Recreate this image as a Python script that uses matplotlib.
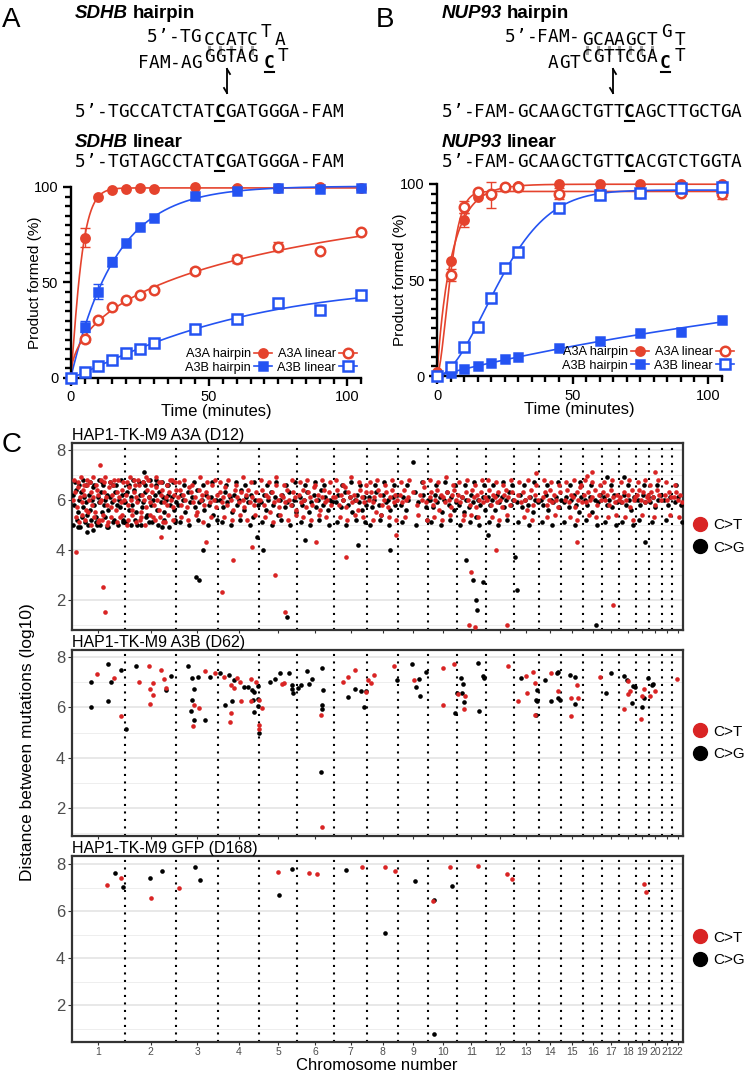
import numpy as np
import matplotlib
matplotlib.use('Agg')
import matplotlib.pyplot as plt
from matplotlib.lines import Line2D
from matplotlib.ticker import MultipleLocator

plt.rcParams['font.family'] = ['Liberation Sans', 'DejaVu Sans']

# ---------------- kinetics data (panels A, B) ----------------
time_min = [0, 5, 10, 15, 20, 25, 30, 45, 60, 75, 90, 105]

sdhb_a3a_hp = [0, 73.5, 95, 98.4, 99, 99.3, 99, 100, 99.7, 99.7, 100, 99.7]
sdhb_a3a_hp_err = [0, 5, 0, 0, 0, 0, 0, 0, 0, 0, 0, 0]
sdhb_a3b_hp = [0, 26.9, 45.2, 60.9, 70.8, 78.9, 83.9, 95.3, 98, 99.7, 99, 99.7]
sdhb_a3b_hp_err = [0, 3, 4, 2.5, 0, 0, 0, 0, 0, 0, 0, 0]
sdhb_a3a_lin = [0, 20.2, 30.4, 37.3, 40.8, 43.5, 46, 56.2, 62.3, 68.8, 66.6, 76.3]
sdhb_a3a_lin_err = [0, 1.5, 0, 0, 0, 0, 0, 1.5, 2, 2.5, 0, 0]
sdhb_a3b_lin = [0, 3, 6.3, 9.4, 12.9, 15.3, 18.5, 25.6, 30.7, 39.4, 35.6, 43.5]
sdhb_a3b_lin_err = [0] * 12

nup93_a3a_hp = [2, 60, 81.2, 93, 94.3, 98.6, 99, 100, 100, 100, 100, 100]
nup93_a3a_hp_err = [0, 0, 3.5, 0, 7, 1, 1, 0, 0, 0, 0, 0]
nup93_a3b_hp = [0, 1.4, 3.5, 5.4, 6.9, 8.7, 9.7, 14.4, 18.4, 22.2, 23, 29.2]
nup93_a3b_hp_err = [0] * 12
nup93_a3a_lin = [0, 52.6, 88, 96, 95, 98.3, 98.6, 95, 96, 95.3, 95.3, 95]
nup93_a3a_lin_err = [0, 3, 3, 0, 0, 0, 0, 3, 0, 0, 0, 3]
nup93_a3b_lin = [0, 4.8, 14.9, 25.7, 40.5, 56.4, 64.8, 87.3, 94.3, 95.1, 97.7, 98.6]
nup93_a3b_lin_err = [0] * 12

series_labels = ['A3A hairpin', 'A3B hairpin', 'A3A linear', 'A3B linear']

# ---------------- rainfall data (panel C), (genome position Mb, log10 distance) ----------------
chrom_len_mb = [249.3, 243.2, 198.0, 191.2, 180.9, 171.1, 159.1, 146.4, 141.2, 135.5, 135.0,
                133.9, 115.2, 107.3, 102.5, 90.4, 81.2, 78.1, 59.1, 63.0, 48.1, 51.3]
chrom_names = [str(i) for i in range(1, 23)]

a3a_ct = [(5,6.0),(14,6.3),(22,5.7),(30,6.5),(37,6.1),(45,5.9),(52,6.4),(58,6.2),(66,5.6),(73,6.6),(80,6.0),
          (88,6.3),(95,5.8),(101,6.1),(109,5.5),(117,6.4),(124,6.2),(131,5.9),(138,6.0),(145,5.4),(152,6.3),
          (160,6.1),(167,5.8),(175,6.5),(183,5.7),(190,6.2),(198,6.0),(206,5.6),(214,6.3),(222,6.1),(230,5.9),
          (238,6.4),(245,6.0),(128,5.2),(150,6.7),(170,5.1),(200,6.8),(226,5.3),(260,5.0),(290,6.8),(320,5.2),
          (350,6.9),(380,5.3),(410,6.7),(440,5.1),(470,6.8),
          (255,6.2),(262,5.8),(270,6.5),(278,6.0),(285,5.6),(293,6.3),(300,6.1),(308,5.9),(316,6.6),(323,5.5),
          (331,6.2),(339,6.0),(347,5.7),(355,6.4),(362,6.1),(370,5.9),(378,6.3),(386,5.8),(394,6.5),(402,6.0),
          (410,5.6),(418,6.2),(426,6.4),(434,5.9),(442,6.1),(450,5.8),(458,6.3),(466,6.0),(474,5.7),(482,6.2),(489,6.4),
          (498,6.1),(507,6.4),(516,5.8),(525,6.2),(534,6.0),(543,5.7),(552,6.5),(561,6.3),(570,5.9),(579,6.1),
          (588,5.5),(597,6.4),(606,6.0),(615,6.2),(624,5.8),(633,6.3),(642,6.1),(651,5.9),(660,6.6),(669,6.0),(678,5.7),(686,6.2),
          (696,6.3),(705,5.9),(714,6.1),(723,6.5),(732,5.8),(741,6.2),(750,6.0),(759,5.6),(768,6.4),(777,6.1),
          (786,5.9),(795,6.3),(804,6.0),(813,5.7),(822,6.2),(831,6.4),(840,5.9),(849,6.1),(858,5.8),(867,6.3),(876,6.0),
          (888,6.0),(897,6.4),(906,5.8),(915,6.2),(924,6.1),(933,5.5),(942,6.3),(951,5.9),(960,6.6),(969,6.0),
          (978,5.7),(987,6.2),(996,6.1),(1005,5.9),(1014,6.4),(1023,6.0),(1032,5.8),(1041,6.3),(1050,6.1),(1058,5.6),
          (1069,6.2),(1078,5.9),(1087,6.4),(1096,6.0),(1105,5.7),(1114,6.3),(1123,6.1),(1132,5.8),(1141,6.5),(1150,6.0),
          (1159,6.2),(1168,5.6),(1177,6.1),(1186,6.4),(1195,5.9),(1204,6.0),(1213,6.3),(1222,5.8),(1230,6.1),
          (1240,6.1),(1249,6.4),(1258,5.8),(1267,6.2),(1276,6.0),(1285,6.5),(1294,5.7),(1303,6.3),(1312,6.1),
          (1321,5.9),(1330,6.2),(1339,6.0),(1348,5.6),(1357,6.4),(1366,6.1),(1375,5.9),(1384,6.3),
          (1399,6.0),(1408,6.3),(1417,5.9),(1426,6.1),(1435,5.5),(1444,6.4),(1453,6.2),(1462,5.8),(1471,6.0),
          (1480,6.3),(1489,5.7),(1498,6.1),(1507,6.4),(1516,5.9),(1525,6.2),(1534,6.0),
          (1545,6.2),(1555,5.9),(1565,6.4),(1575,6.0),(1585,6.1),(1610,6.3),(1625,5.8),(1640,6.2),(1650,6.0),(1660,6.5),(1670,5.9),
          (1686,6.1),(1695,6.3),(1704,5.8),(1713,6.0),(1722,6.4),(1731,5.6),(1740,6.2),(1749,6.1),(1758,5.9),
          (1767,6.3),(1776,6.0),(1785,5.7),(1794,6.2),(1803,6.4),(1811,6.0),
          (1822,6.2),(1831,5.9),(1840,6.1),(1849,5.4),(1858,6.3),(1867,6.0),(1876,5.8),(1885,6.4),(1894,6.1),
          (1903,5.7),(1912,6.2),(1921,6.0),(1930,6.3),(1939,5.9),(1947,6.1),
          (1957,6.0),(1966,6.4),(1975,5.8),(1984,6.2),(1993,6.1),(2002,5.9),(2011,6.3),(2020,6.0),(2029,5.7),
          (2038,6.2),(2047,6.4),(2056,6.1),(2065,5.8),(2074,6.3),(2082,6.0),
          (2105,6.2),(2115,5.9),(2125,6.3),(2135,6.0),(2145,5.6),(2155,6.1),(2165,6.4),(2175,5.8),(2185,6.2),(2195,6.0),
          (2220,6.1),(2229,6.3),(2238,5.8),(2247,6.0),(2256,6.4),(2265,5.9),(2274,6.2),(2283,6.0),(2292,5.7),(2301,6.3),
          (2325,6.0),(2334,6.4),(2343,5.9),(2352,6.2),(2361,6.1),(2370,5.7),(2379,6.3),(2388,6.0),(2397,6.5),(2405,5.9),
          (2414,6.2),(2423,5.9),(2432,6.3),(2441,6.0),(2450,6.1),(2468,6.4),(2477,5.8),(2486,6.2),(2495,6.0),
          (2505,6.3),(2514,6.0),(2523,6.2),(2532,5.8),(2541,6.4),(2550,6.1),(2559,5.9),(2568,6.2),(2577,6.0),
          (2586,6.1),(2595,5.9),(2604,6.3),(2613,6.0),(2622,6.2),(2631,5.7),(2640,6.4),(2649,6.0),(2657,6.1),
          (2664,6.2),(2673,6.4),(2682,6.0),(2691,6.3),(2700,5.9),(2709,6.1),(2716,6.2),
          (2723,6.0),(2732,6.3),(2741,6.1),(2750,5.8),(2759,6.4),(2768,6.2),(2777,6.0),
          (2795,6.2),(2805,6.0),(2815,6.3),(2825,6.1),
          (2838,6.1),(2848,6.3),(2858,6.0),(2868,6.2),(2877,5.9),
          (132,7.4),(19,3.9),(146,2.5),(156,1.5),(632,4.3),(707,2.3),(849,4.1),(957,3.0),(1004,1.5),(1150,4.3),
          (1290,3.7),(1870,1.0),(1880,3.1),(1900,0.9),(2000,4.0),(2050,1.0),(2550,1.8),(2749,7.1),(2186,7.07),
          (2426,6.95),(2452,7.1),(420,4.5),(760,3.6),(1530,4.6),(2380,4.3)]

# upper / lower edge of the dense A3A band
a3a_ct_edge = [(9,6.8),(18,5.3),(26,6.7),(34,5.1),(41,6.9),(49,5.4),(55,6.6),(62,5.2),(69,6.8),(77,5.5),(84,6.7),
               (91,5.0),(98,6.9),(105,5.3),(113,6.6),(121,5.1),(135,6.8),(142,5.2),(156,6.9),(163,5.0),(179,6.7),
               (186,5.3),(194,6.6),(210,5.1),(218,6.8),(234,5.4),(242,6.7),
               (258,6.7),(266,5.2),(274,6.9),(282,5.4),(297,6.6),(304,5.1),(312,6.8),(327,5.3),(335,6.7),(343,5.0),
               (359,6.8),(366,5.4),(374,6.6),(390,5.2),(398,6.9),(414,5.3),(422,6.7),(430,5.1),(446,6.6),(454,5.4),
               (462,6.8),(478,5.2),(486,6.7),
               (503,6.7),(512,5.3),(530,6.8),(548,5.2),(566,6.6),(584,5.4),(602,6.9),(620,5.1),(638,6.7),(656,5.3),(674,6.8),
               (700,6.7),(718,5.3),(736,6.8),(754,5.2),(772,6.6),(790,5.4),(808,6.9),(826,5.2),(844,6.7),(862,5.4),
               (892,6.8),(910,5.3),(928,6.7),(946,5.1),(964,6.9),(982,5.4),(1000,6.6),(1018,5.2),(1036,6.8),(1054,5.4),
               (1073,6.7),(1091,5.3),(1109,6.8),(1127,5.2),(1145,6.6),(1163,5.4),(1181,6.8),(1199,5.3),(1217,6.7),
               (1244,6.8),(1262,5.3),(1280,6.6),(1298,5.2),(1316,6.9),(1334,5.4),(1352,6.7),(1370,5.3),(1388,6.6),
               (1403,6.7),(1421,5.2),(1439,6.8),(1457,5.4),(1475,6.6),(1493,5.3),(1511,6.8),(1529,5.2),
               (1550,6.7),(1570,5.3),(1590,6.8),(1630,5.4),(1655,6.7),(1675,5.2),
               (1690,6.8),(1708,5.3),(1726,6.7),(1744,5.2),(1762,6.9),(1780,5.4),(1798,6.6),
               (1826,6.7),(1844,5.2),(1862,6.8),(1880,5.4),(1898,6.6),(1916,5.3),(1934,6.8),
               (1961,6.8),(1979,5.3),(1997,6.7),(2015,5.2),(2033,6.6),(2051,5.4),(2069,6.8),
               (2110,6.7),(2130,5.3),(2150,6.8),(2170,5.2),(2190,6.6),
               (2224,6.8),(2242,5.3),(2260,6.7),(2278,5.4),(2296,6.6),
               (2329,6.7),(2347,5.3),(2365,6.8),(2383,5.2),(2401,6.6),
               (2418,6.8),(2436,5.4),(2454,6.7),(2472,5.3),(2490,6.6),
               (2509,6.7),(2527,5.3),(2545,6.8),(2563,5.4),(2590,6.7),(2608,5.3),(2626,6.8),(2644,5.2),
               (2668,6.7),(2686,5.4),(2704,6.8),(2727,6.6),(2745,5.3),(2763,6.8),(2800,6.7),(2820,5.4),
               (2843,6.6),(2863,5.3)]

a3a_cg = [(3,6.2),(11,5.8),(19,6.4),(27,5.5),(35,6.0),(43,6.3),(50,5.7),(57,6.1),(64,5.9),(71,5.4),(78,6.2),
          (86,5.6),(93,6.0),(99,6.5),(106,5.8),(113,5.3),(121,6.1),(128,5.9),(135,6.3),(142,5.5),(149,5.8),
          (156,6.0),(164,6.2),(172,5.6),(180,6.1),(188,5.9),(196,5.2),(204,6.3),(212,5.8),(220,6.0),(228,5.7),
          (236,6.2),(243,5.9),(118,5.0),(140,6.7),(165,4.9),(195,6.6),(240,5.1),(270,6.6),(305,5.0),(335,6.7),
          (365,5.1),(395,6.8),(425,4.9),(455,6.6),(485,5.2),
          (252,5.9),(260,6.3),(268,5.6),(276,6.1),(284,5.8),(292,6.4),(301,5.5),(310,6.0),(319,6.2),(328,5.7),
          (337,5.9),(346,6.3),(355,5.4),(364,6.1),(373,5.8),(382,6.0),(391,6.2),(400,5.6),(409,6.3),(418,5.9),
          (427,6.1),(436,5.5),(445,6.0),(454,6.2),(463,5.8),(472,6.1),(481,5.6),(490,5.9),
          (502,5.8),(513,6.2),(524,6.0),(535,5.5),(546,6.3),(557,5.9),(568,6.1),(579,5.7),(590,6.4),(601,5.9),
          (612,6.0),(623,5.6),(634,6.2),(645,5.8),(656,6.1),(667,5.4),(678,6.0),
          (700,6.0),(711,5.7),(722,6.3),(733,5.9),(744,6.1),(755,5.5),(766,6.2),(777,5.8),(788,6.0),(799,6.4),
          (810,5.6),(821,6.1),(832,5.9),(843,6.2),(854,5.3),(865,6.0),(875,5.8),
          (892,5.9),(903,6.2),(914,5.6),(925,6.0),(936,6.3),(947,5.8),(958,6.1),(969,5.4),(980,6.0),(991,6.2),
          (1002,5.7),(1013,5.9),(1024,6.3),(1035,5.8),(1046,6.0),(1057,5.5),
          (1073,6.1),(1084,5.8),(1095,6.0),(1106,6.3),(1117,5.5),(1128,5.9),(1139,6.2),(1150,5.7),(1161,6.0),
          (1172,6.4),(1183,5.8),(1194,6.1),(1205,5.6),(1216,6.0),(1227,5.9),
          (1245,5.9),(1256,6.2),(1267,5.7),(1278,6.0),(1289,6.3),(1300,5.8),(1311,6.1),(1322,5.5),(1333,6.0),
          (1344,6.2),(1355,5.9),(1366,5.6),(1377,6.1),(1388,5.8),
          (1402,6.1),(1413,5.7),(1424,6.0),(1435,6.3),(1446,5.8),(1457,5.4),(1468,6.2),(1479,5.9),(1490,6.0),
          (1501,5.6),(1512,6.1),(1523,5.8),(1534,6.2),
          (1550,5.8),(1562,6.1),(1574,5.6),(1586,6.0),(1615,6.3),(1630,5.9),(1657,6.2),(1669,5.7),(1678,6.0),
          (1690,6.0),(1701,5.7),(1712,6.2),(1723,5.9),(1734,6.1),(1745,5.5),(1756,6.0),(1767,6.3),(1778,5.8),
          (1789,6.1),(1800,5.6),(1811,5.9),
          (1826,5.8),(1837,6.1),(1848,5.5),(1859,6.0),(1870,5.7),(1881,6.2),(1892,5.9),(1903,5.3),(1914,6.0),
          (1925,5.8),(1936,6.1),(1946,5.6),
          (1960,6.1),(1971,5.8),(1982,6.0),(1993,5.6),(2004,6.2),(2015,5.9),(2026,6.1),(2037,5.7),(2048,6.0),
          (2059,6.3),(2070,5.8),(2081,6.0),
          (2100,5.9),(2112,6.2),(2124,5.7),(2136,6.0),(2148,5.8),(2160,6.1),(2172,5.5),(2184,6.0),(2196,5.9),
          (2210,6.0),(2222,5.8),(2234,6.2),(2246,5.6),(2258,6.0),(2270,5.9),(2282,6.1),(2294,5.7),(2304,6.0),
          (2318,5.9),(2330,6.1),(2342,5.7),(2354,6.0),(2366,6.2),(2378,5.8),(2390,5.5),(2402,6.1),
          (2418,6.0),(2430,5.8),(2442,6.1),(2454,5.5),(2466,6.0),(2478,5.9),(2490,6.2),
          (2510,6.1),(2522,5.8),(2534,6.0),(2546,5.7),(2558,6.2),(2570,5.9),
          (2590,5.9),(2602,6.2),(2614,5.8),(2626,6.0),(2638,5.6),(2650,6.1),
          (2668,6.0),(2680,5.8),(2692,6.2),(2704,5.9),(2714,6.1),
          (2727,5.9),(2739,6.1),(2751,5.7),(2763,6.0),(2775,6.2),
          (2790,6.0),(2810,5.8),(2822,6.1),(2842,5.9),(2856,6.1),(2870,5.8),
          (71,4.7),(339,7.1),(585,2.9),(600,2.8),(618,4.0),(870,4.5),(1015,1.3),(1500,4.0),(1608,7.5),(1860,3.6),
          (1890,2.8),(1905,2.0),(1912,1.6),(1940,2.7),(2090,3.7),(2100,2.4),(2470,1.0),(2700,4.3),(2522,6.9),
          (2603,6.9),(1100,4.4),(1960,4.6),(1350,4.2),(30,4.9),(900,4.0)]

a3a_cg_edge = [(7,5.0),(16,6.7),(24,5.2),(32,6.6),(40,4.9),(47,5.3),(54,6.8),(61,5.1),(68,6.6),(75,5.0),(83,6.7),
               (90,5.2),(97,4.8),(103,6.6),(111,5.1),(125,6.8),(133,5.0),(147,6.6),(154,5.3),(169,4.9),(177,6.7),
               (192,5.1),(208,6.6),(216,5.0),(232,6.8),(240,5.2),
               (256,5.1),(264,6.6),(280,5.0),(288,6.8),(296,5.2),(314,6.7),(324,5.0),(342,6.6),(351,5.3),(369,6.8),
               (378,5.1),(396,6.6),(405,5.0),(423,6.7),(432,5.2),(450,6.6),(459,4.9),(477,6.7),(486,5.1),
               (507,5.1),(529,6.6),(551,5.0),(573,6.7),(595,5.2),(617,6.6),(639,5.0),(661,6.7),(683,5.2),
               (705,5.1),(727,6.6),(749,5.0),(771,6.7),(793,5.2),(815,6.6),(837,5.0),(859,6.7),
               (897,5.1),(919,6.6),(941,5.0),(963,6.7),(985,5.2),(1007,6.6),(1029,5.0),(1051,6.7),
               (1078,5.1),(1100,6.6),(1122,5.0),(1144,6.7),(1166,5.2),(1188,6.6),(1210,5.0),
               (1250,5.1),(1272,6.6),(1294,5.0),(1316,6.7),(1338,5.2),(1360,6.6),(1382,5.1),
               (1407,5.0),(1429,6.6),(1451,5.2),(1473,6.7),(1495,5.0),(1517,6.6),
               (1556,5.1),(1580,6.6),(1620,5.0),(1650,6.7),(1672,5.2),
               (1695,5.1),(1717,6.6),(1739,5.0),(1761,6.7),(1783,5.2),(1805,6.6),
               (1831,5.0),(1853,6.6),(1875,5.1),(1897,6.7),(1919,5.0),(1941,6.6),
               (1965,5.1),(1987,6.6),(2009,5.0),(2031,6.7),(2053,5.2),(2075,6.6),
               (2105,5.1),(2130,6.6),(2155,5.0),(2180,6.7),(2215,5.1),(2240,6.6),(2265,5.0),(2290,6.7),
               (2322,5.1),(2347,6.6),(2372,5.0),(2397,6.7),(2424,5.2),(2449,6.6),(2474,5.0),
               (2515,5.1),(2540,6.6),(2565,5.0),(2595,5.1),(2620,6.6),(2645,5.0),(2672,5.2),(2697,6.6),
               (2733,5.1),(2757,6.6),(2800,5.2),(2850,6.6),(2875,5.1)]

a3b_ct = [(116,7.33),(200,7.18),(231,5.67),(316,7.02),(363,7.63),(368,6.72),(380,6.96),(382,6.51),(369,6.12),
          (420,7.5),(432,7.12),(442,6.77),(569,5.26),(575,6.08),(597,5.96),(628,7.45),(674,7.37),(717,7.22),
          (750,6.91),(762,6.77),(750,5.78),(746,5.41),(778,7.17),(791,7.03),(795,6.25),(843,7.13),(843,6.26),
          (869,7.0),(880,6.29),(895,5.98),(880,5.3),(883,5.14),(990,6.93),(1000,6.97),(1176,5.7),(1179,1.26),
          (1279,7.03),(1300,7.19),(1334,7.49),(1394,7.1),(1408,6.97),(1425,7.27),(1518,7.64),(1613,7.09),
          (1748,7.55),(1803,7.71),(1748,6.1),(1820,6.53),(1853,6.47),(1850,5.93),(2057,7.64),(2101,6.25),
          (2141,7.26),(2174,7.42),(2183,6.97),(2144,6.58),(2184,5.69),(2257,7.37),(2290,6.64),(2382,6.91),
          (2353,6.38),(2386,6.38),(2351,5.67),(2489,7.22),(2624,7.04),(2631,6.67),(2623,6.55),(2604,5.93),
          (2683,5.54),(2696,6.74),(2688,6.44),(2725,6.44),(2749,6.67),(2855,7.11),(1386,6.6)]

a3b_cg = [(90,7.02),(90,6.03),(168,7.71),(171,6.25),(182,7.02),(231,7.48),(253,5.13),(302,7.65),(445,6.69),
          (465,7.26),(548,7.64),(564,7.17),(567,6.3),(574,6.73),(562,5.86),(574,5.49),(594,7.22),(628,5.49),
          (651,7.22),(698,7.37),(740,7.27),(721,6.11),(756,6.24),(765,7.1),(812,6.8),(831,6.8),(850,6.7),
          (860,6.61),(853,6.3),(860,5.83),(878,6.87),(875,6.32),(877,6.04),(882,5.0),(935,7.0),(957,7.13),
          (981,7.37),(1025,7.36),(1036,6.91),(1039,6.72),(1043,6.58),(1064,6.78),(1080,6.91),(1109,7.44),
          (1117,6.92),(1133,7.13),(1177,7.57),(1182,6.68),(1177,6.08),(1177,5.95),(1174,3.45),(1303,6.4),
          (1333,6.75),(1363,6.65),(1379,6.02),(1386,6.66),(1531,7.09),(1602,7.71),(1636,7.13),(1620,6.8),
          (1639,6.46),(1668,7.41),(1834,7.15),(1845,6.93),(1817,6.57),(1837,6.57),(1847,6.21),(1806,5.78),
          (1916,7.77),(1936,7.26),(1945,7.18),(1920,5.84),(2117,7.17),(2192,6.7),(2188,6.29),(2192,6.27),
          (2190,5.69),(2228,7.1),(2285,7.37),(2290,7.42),(2293,6.38),(2258,6.25),(2300,6.29),(2348,7.27),
          (2372,7.22),(2373,6.13),(2543,7.38),(2516,6.57),(2603,7.25),(2615,7.07),(2643,6.86),(2655,6.82),
          (2639,6.16),(2686,6.01),(2696,6.38),(2714,7.15),(2733,6.91),(2740,6.95)]

gfp_ct = [(167,7.11),(230,7.39),(374,6.57),(503,6.98),(971,7.65),(1116,7.62),(1154,7.57),(1368,7.89),
          (1476,7.89),(1524,7.7),(1702,6.43),(1781,7.86),(1916,7.93),(2051,7.56),(2076,7.35),(2698,7.14),(2705,6.82)]
gfp_cg = [(205,7.6),(241,7.03),(370,7.42),(424,7.7),(579,7.89),(604,7.32),(976,6.68),(1039,7.79),(1292,7.74),
          (1476,5.09),(1618,7.29),(1706,6.47),(1794,7.06),(1706,0.78)]

RED = '#E5432D'
BLUE = '#2453F2'
RED_C = '#D92424'

W, H = 750, 1073
fig = plt.figure(figsize=(W / 100, H / 100), dpi=100)
R = fig.canvas.get_renderer()


def fx(x):
    return x / W


def fy(y):
    return 1 - y / H


def box(l, t, r, b):
    return [l / W, 1 - b / H, (r - l) / W, (b - t) / H]


def fline(xs, ys, **kw):
    fig.add_artist(Line2D([fx(v) for v in xs], [fy(v) for v in ys], transform=fig.transFigure, **kw))


MONO_FS = 12.8
CW = MONO_FS * 100 / 72 * 0.6021


def seq(x, y, s, ul=None):
    # draw a DNA string char by char (monospace); ul = index of bold underlined C
    for i, ch in enumerate(s):
        fig.text(fx(x + (i + 0.5) * CW), fy(y), ch, family='DejaVu Sans Mono', fontsize=MONO_FS,
                 weight='bold' if i == ul else 'normal', ha='center', va='baseline')
        if i == ul:
            fline([x + i * CW + 1, x + (i + 1) * CW - 1], [y + 4, y + 4], color='k', lw=1.5)


def heading(x, y, gene, rest):
    t = fig.text(fx(x), fy(y), gene, fontsize=13.5, weight='bold', style='italic', va='baseline')
    w = t.get_window_extent(R).width
    fig.text(fx(x + w + 5), fy(y), rest, fontsize=13.5, weight='bold', va='baseline')


def pairs(x, n, y0=47, y1=53):
    for i in range(n):
        xc = x + (i + 0.5) * CW
        fline([xc, xc], [y0, y1], color='#A0A0A0', lw=2.2)


def cut(x, y0=69, y1=93):
    fline([x, x], [y0, y1], color='k', lw=1.3)
    fline([x, x + 3], [y0, y0 + 5], color='k', lw=1.3)
    fline([x, x - 3], [y1, y1 - 5], color='k', lw=1.3)


# ---------- panel A header ----------
fig.text(fx(2), fy(27), 'A', fontsize=20)
heading(75, 18, 'SDHB', 'hairpin')
seq(147, 42, '5’-TG')
seq(204, 45, 'CCATC')
seq(261, 37, 'T')
seq(275, 45, 'A')
seq(138, 68, 'FAM-AG')
seq(204, 62, 'GGTAG')
seq(264, 68, 'C', ul=0)
seq(278, 61, 'T')
pairs(204, 5)
cut(227)
seq(75, 117, '5’-TGCCATCTATCGATGGGA-FAM', ul=13)
heading(75, 147, 'SDHB', 'linear')
seq(75, 167, '5’-TGTAGCCTATCGATGGGA-FAM', ul=13)

# ---------- panel B header ----------
fig.text(fx(376), fy(27), 'B', fontsize=20)
heading(442, 18, 'NUP93', 'hairpin')
seq(505, 42, '5’-FAM-')
seq(582, 45, 'GCAAGCT')
seq(661, 37, 'G')
seq(675, 45, 'T')
seq(548, 68, 'AGT')
seq(582, 62, 'CGTTCGA')
seq(660, 68, 'C', ul=0)
seq(675, 61, 'T')
pairs(582, 7)
cut(613)
seq(442, 117, '5’-FAM-GCAAGCTGTTCAGCTTGCTGA', ul=17)
heading(442, 147, 'NUP93', 'linear')
seq(442, 167, '5’-FAM-GCAAGCTGTTCACGTCTGGTA', ul=17)


def fit(t, y):
    # one-phase (stretched) association fitted by grid search
    t = np.asarray(t, float)
    y = np.asarray(y, float)
    ks = np.logspace(-3, 0.3, 400)[:, None, None]
    ns = np.linspace(0.4, 3.0, 66)[None, :, None]
    f = 1 - np.exp(-(ks * t) ** ns)
    ymax = (f * y).sum(-1) / (f * f).sum(-1)
    err = ((ymax[..., None] * f - y) ** 2).sum(-1)
    i, j = np.unravel_index(err.argmin(), err.shape)
    return ymax[i, j], ks.ravel()[i], ns.ravel()[j]


styles = [(RED, 'o', True), (BLUE, 's', True), (RED, 'o', False), (BLUE, 's', False)]


def kinetics(ax, data, errs, lx, xlab_y, leg_x):
    tt = np.linspace(0, 105, 400)
    handles = []
    for (col, mk, filled), y, e in zip(styles, data, errs):
        ymax, k, n = fit(time_min, y)
        ax.plot(tt, ymax * (1 - np.exp(-(k * tt) ** n)), color=col, lw=1.2, clip_on=False, zorder=2)
        e = np.asarray(e, float)
        m = e > 0
        ax.errorbar(np.asarray(time_min)[m], np.asarray(y)[m], yerr=e[m], fmt='none', ecolor=col,
                    elinewidth=1.0, capsize=3.5, capthick=1.0, clip_on=False, zorder=3)
        ms = 6.0 if filled else 6.8
        kw = dict(marker=mk, ms=ms, mfc=col if filled else 'white', mec=col, mew=1.8)
        ax.plot(time_min, y, ls='none', clip_on=False, zorder=4, **kw)
        handles.append(Line2D([], [], color=col, lw=1.2, **kw))
    ax.set_xlim(0, 105)
    ax.set_ylim(0, 100)
    ax.set_xticks([0, 50, 100])
    ax.set_yticks([0, 50, 100])
    ax.xaxis.set_minor_locator(MultipleLocator(5))
    ax.yaxis.set_minor_locator(MultipleLocator(5))
    for s in ['top', 'right']:
        ax.spines[s].set_visible(False)
    for s in ['left', 'bottom']:
        ax.spines[s].set_linewidth(1.7)
    ax.tick_params(which='major', length=6, width=1.7, labelsize=10.5, pad=3)
    ax.tick_params(which='minor', length=4, width=1.7)
    ax.set_xlabel('Time (minutes)', fontsize=12)
    ax.set_ylabel('Product formed (%)', fontsize=11)
    ax.xaxis.set_label_coords(0.5, xlab_y)
    ax.yaxis.set_label_coords(lx, 0.5)
    leg = ax.legend(handles, series_labels, ncol=2, loc='lower right', bbox_to_anchor=(leg_x, 0.0),
                    markerfirst=False, frameon=False, fontsize=9.2, handlelength=1.4, handletextpad=0.25,
                    columnspacing=0.4, labelspacing=0.12, borderaxespad=0.15, borderpad=0.2)
    leg.set_zorder(5)


axA = fig.add_axes(box(70.7, 187, 361.2, 378))
kinetics(axA, [sdhb_a3a_hp, sdhb_a3b_hp, sdhb_a3a_lin, sdhb_a3b_lin],
         [sdhb_a3a_hp_err, sdhb_a3b_hp_err, sdhb_a3a_lin_err, sdhb_a3b_lin_err], -0.1, -0.135, 1.0)

axB = fig.add_axes(box(437, 184, 721.6, 376))
kinetics(axB, [nup93_a3a_hp, nup93_a3b_hp, nup93_a3a_lin, nup93_a3b_lin],
         [nup93_a3a_hp_err, nup93_a3b_hp_err, nup93_a3a_lin_err, nup93_a3b_lin_err], -0.105, -0.135, 1.058)

# ---------- panel C ----------
starts = np.concatenate([[0], np.cumsum(chrom_len_mb)])
mids = (starts[:-1] + starts[1:]) / 2


def rain(ax, ct, cg, ylim, title, show_x):
    ax.set_xlim(0, starts[-1])
    ax.set_ylim(*ylim)
    ax.set_yticks([2, 4, 6, 8])
    ax.set_yticks([1, 3, 5, 7], minor=True)
    ax.grid(axis='y', which='major', color='#E2E2E2', lw=1.1)
    ax.grid(axis='y', which='minor', color='#EEEEEE', lw=0.7)
    ax.set_axisbelow(True)
    for b in starts[1:-1]:
        ax.axvline(b, color='k', ls=(0, (1, 2.6)), lw=1.5, zorder=1)
    x, y = np.array(cg).T
    ax.scatter(x, y, s=11, c='black', lw=0, zorder=3)
    x, y = np.array(ct).T
    ax.scatter(x, y, s=11, c=RED_C, lw=0, zorder=3)
    ax.set_xticks(mids)
    ax.set_xticklabels(chrom_names if show_x else [])
    ax.tick_params(axis='x', length=2, color='#333333', labelsize=7.5, labelcolor='#4D4D4D', pad=1.5)
    ax.tick_params(axis='y', which='major', length=3, color='#333333', labelsize=12,
                   labelcolor='#4D4D4D', pad=2)
    ax.tick_params(axis='y', which='minor', length=0)
    for s in ax.spines.values():
        s.set_color('#333333')
        s.set_linewidth(1.6)
    ax.set_title(title, loc='left', fontsize=11.5, pad=2)
    hd = [Line2D([], [], ls='none', marker='o', ms=10, color=RED_C),
          Line2D([], [], ls='none', marker='o', ms=10, color='black')]
    ax.legend(hd, ['C>T', 'C>G'], loc='center left', bbox_to_anchor=(1.01, 0.5), frameon=False,
              fontsize=11, handlelength=0.8, handletextpad=0.5, labelspacing=0.55,
              borderaxespad=0, borderpad=0.3)


fig.text(fx(2), fy(452), 'C', fontsize=20)
ax1 = fig.add_axes(box(72, 443, 683, 630))
rain(ax1, a3a_ct + a3a_ct_edge, a3a_cg + a3a_cg_edge, (0.78, 8.28), 'HAP1-TK-M9 A3A (D12)', False)
ax2 = fig.add_axes(box(72, 650, 683, 836))
rain(ax2, a3b_ct, a3b_cg, (0.9, 8.28), 'HAP1-TK-M9 A3B (D62)', False)
ax3 = fig.add_axes(box(72, 856, 683, 1042))
rain(ax3, gfp_ct, gfp_cg, (0.44, 8.34), 'HAP1-TK-M9 GFP (D168)', True)

fig.text(fx(28), fy(742), 'Distance between mutations (log10)', rotation=90, ha='center', va='center',
         fontsize=12.5)
fig.text(fx(377), fy(1066), 'Chromosome number', ha='center', va='center', fontsize=12)

fig.savefig('out.png', dpi=100)
